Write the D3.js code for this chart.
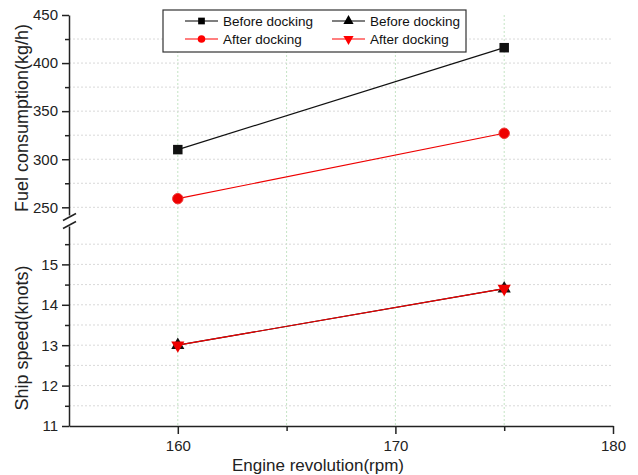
<!DOCTYPE html>
<html>
<head>
<meta charset="utf-8">
<script src="https://cdn.jsdelivr.net/npm/d3@7"></script>
<style>
  body { margin: 0; background: #fff; }
  svg { font-family: "Liberation Sans", Arial, sans-serif; }
</style>
</head>
<body>
<svg id="chart" width="638" height="475"></svg>
<script>
// data
const rpm = [160, 175];
const fuelBefore = [310, 416];
const fuelAfter = [259, 327];
const speedBefore = [13.0, 14.4];
const speedAfter = [13.0, 14.4];

const rpmTicks = [160, 170, 180];
const rpmMinor = [165, 175];
const rpmGrid = [160, 165, 170, 175];
const fuelTicks = [250, 300, 350, 400, 450];
const fuelMinor = [275, 325, 375, 425];
const speedTicks = [11, 12, 13, 14, 15];
const speedMinor = [11.5, 12.5, 13.5, 14.5, 15.5];

const legendItems = [
  { label: "Before docking", color: "#000", marker: "square", col: 0, row: 0 },
  { label: "After docking", color: "#f00", marker: "circle", col: 0, row: 1 },
  { label: "Before docking", color: "#000", marker: "triangle", col: 1, row: 0 },
  { label: "After docking", color: "#f00", marker: "triangleDown", col: 1, row: 1 }
];

const svg = d3.select("#chart");

const x = d3.scaleLinear().domain([155, 180]).range([69, 613]);
const yFuel = d3.scaleLinear().domain([242, 450]).range([215, 15]);
const ySpeed = d3.scaleLinear().domain([11, 15.95]).range([426, 226]);

//------------------------------------------------------//
// grid
//------------------------------------------------------//
const grid = svg.append("g");
grid.selectAll(".vgrid").data(rpmGrid).join("line")
  .attr("x1", d => x(d)).attr("x2", d => x(d))
  .attr("y1", 15).attr("y2", 426)
  .attr("stroke", "#c4e4c4").attr("stroke-width", 1)
  .attr("stroke-dasharray", "2,2");

const hFuel = fuelTicks.concat(fuelMinor).filter(d => d < 450);
grid.selectAll(".hf").data(hFuel).join("line")
  .attr("x1", 69).attr("x2", 613)
  .attr("y1", d => yFuel(d)).attr("y2", d => yFuel(d))
  .attr("stroke", "#d9d9d9").attr("stroke-dasharray", "2,2");

const hSpeed = speedTicks.concat(speedMinor).filter(d => d > 11);
grid.selectAll(".hs").data(hSpeed).join("line")
  .attr("x1", 69).attr("x2", 613)
  .attr("y1", d => ySpeed(d)).attr("y2", d => ySpeed(d))
  .attr("stroke", "#d9d9d9").attr("stroke-dasharray", "2,2");

//------------------------------------------------------//
// axes
//------------------------------------------------------//
function styleAxis(g) {
  g.selectAll("path, line").attr("stroke", "#222").attr("stroke-width", 1.5);
  g.selectAll("text").attr("fill", "#222").attr("font-size", 15)
    .attr("font-family", "Liberation Sans, Arial, sans-serif");
}

svg.append("g").attr("transform", "translate(0,426)")
  .call(d3.axisBottom(x).tickValues(rpmTicks).tickSize(8).tickPadding(6).tickSizeOuter(0))
  .call(styleAxis);
svg.append("g").attr("transform", "translate(0,426)")
  .call(d3.axisBottom(x).tickValues(rpmMinor).tickSize(5).tickFormat("").tickSizeOuter(0))
  .call(g => g.select(".domain").remove())
  .call(styleAxis);

svg.append("g").attr("transform", "translate(69,0)")
  .call(d3.axisLeft(yFuel).tickValues(fuelTicks).tickSize(7).tickPadding(4).tickSizeOuter(0))
  .call(styleAxis);
svg.append("g").attr("transform", "translate(69,0)")
  .call(d3.axisLeft(yFuel).tickValues(fuelMinor).tickSize(4).tickFormat("").tickSizeOuter(0))
  .call(g => g.select(".domain").remove())
  .call(styleAxis);

svg.append("g").attr("transform", "translate(69,0)")
  .call(d3.axisLeft(ySpeed).tickValues(speedTicks).tickFormat(d3.format("d"))
    .tickSize(7).tickPadding(4).tickSizeOuter(0))
  .call(styleAxis);
svg.append("g").attr("transform", "translate(69,0)")
  .call(d3.axisLeft(ySpeed).tickValues(speedMinor).tickSize(4).tickFormat("").tickSizeOuter(0))
  .call(g => g.select(".domain").remove())
  .call(styleAxis);

// axis break marks
svg.selectAll(".brk").data([yFuel.range()[0] + 2, ySpeed.range()[1] - 1]).join("line")
  .attr("x1", 63).attr("x2", 76)
  .attr("y1", d => d + 3.5).attr("y2", d => d - 3.5)
  .attr("stroke", "#222").attr("stroke-width", 1.5);

//------------------------------------------------------//
// lines and markers
//------------------------------------------------------//
const symbolFor = {
  square: d3.symbol().type(d3.symbolSquare).size(90),
  circle: d3.symbol().type(d3.symbolCircle).size(85),
  triangle: d3.symbol().type(d3.symbolTriangle).size(75),
  triangleDown: d3.symbol().type(d3.symbolTriangle).size(75)
};

function drawSeries(values, yScale, color, marker) {
  const pts = rpm.map((r, i) => [x(r), yScale(values[i])]);
  svg.append("path")
    .attr("d", d3.line()(pts))
    .attr("fill", "none").attr("stroke", color).attr("stroke-width", 1.2);
  svg.selectAll(null).data(pts).join("path")
    .attr("d", symbolFor[marker]())
    .attr("transform", d => `translate(${d[0]},${d[1]})` + (marker === "triangleDown" ? " rotate(180)" : ""))
    .attr("fill", color)
    .attr("stroke", marker === "circle" ? "#e33" : "none");
}

drawSeries(fuelBefore, yFuel, "#111", "square");
drawSeries(fuelAfter, yFuel, "#e00", "circle");
drawSeries(speedBefore, ySpeed, "#111", "triangle");
drawSeries(speedAfter, ySpeed, "#e00", "triangleDown");

//------------------------------------------------------//
// legend
//------------------------------------------------------//
const legend = svg.append("g");
legend.append("rect")
  .attr("x", 163).attr("y", 10).attr("width", 303).attr("height", 42)
  .attr("fill", "#fff").attr("stroke", "#333").attr("stroke-width", 1.2);

const colX = [185, 332];
const rowY = [21, 39];
const li = legend.selectAll(".li").data(legendItems).join("g")
  .attr("transform", d => `translate(${colX[d.col]},${rowY[d.row]})`);
li.append("line").attr("x1", 0).attr("x2", 33).attr("y1", 0).attr("y2", 0)
  .attr("stroke", d => d.color).attr("stroke-width", 1.2);
li.append("path")
  .attr("d", d => d3.symbol().type(d.marker === "square" ? d3.symbolSquare
    : d.marker === "circle" ? d3.symbolCircle : d3.symbolTriangle).size(45)())
  .attr("transform", d => "translate(16.5,0)" + (d.marker === "triangleDown" ? " rotate(180)" : ""))
  .attr("fill", d => d.color);
li.append("text").attr("x", 38).attr("y", 5)
  .attr("font-size", 13.5).attr("fill", "#111")
  .text(d => d.label);

//------------------------------------------------------//
// titles
//------------------------------------------------------//
svg.append("text")
  .attr("x", 318).attr("y", 471).attr("text-anchor", "middle")
  .attr("font-size", 17).attr("fill", "#222")
  .text("Engine revolution(rpm)");

svg.append("text")
  .attr("transform", "translate(28,118) rotate(-90)")
  .attr("text-anchor", "middle").attr("font-size", 18).attr("fill", "#222")
  .text("Fuel consumption(kg/h)");

svg.append("text")
  .attr("transform", "translate(28,338) rotate(-90)")
  .attr("text-anchor", "middle").attr("font-size", 18).attr("fill", "#222")
  .text("Ship speed(knots)");
</script>
</body>
</html>
